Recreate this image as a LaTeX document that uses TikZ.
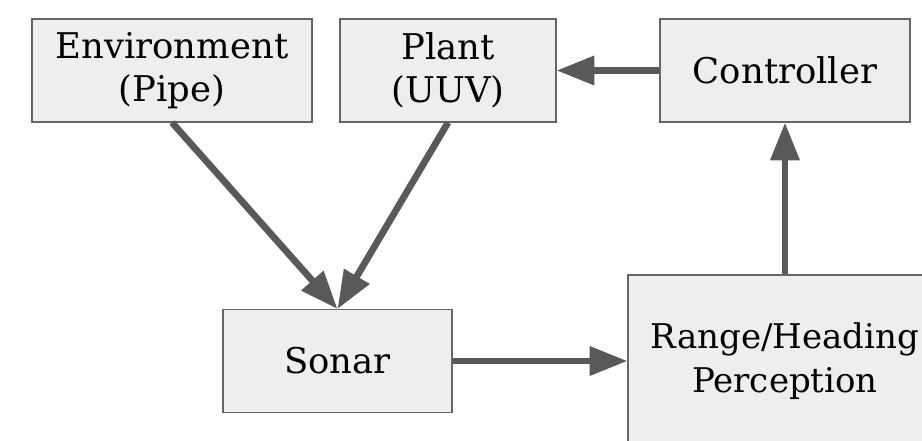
\documentclass[tikz,border=0pt]{standalone}
\usepackage{fontspec}
\setmainfont{DejaVu Serif}
\usetikzlibrary{arrows.meta,positioning}

\definecolor{boxfill}{HTML}{EEEEEE}
\definecolor{boxline}{HTML}{666666}
\definecolor{arrowgray}{HTML}{595959}

\begin{document}
\begin{tikzpicture}[
  x=1cm,y=1cm,
  font=\fontsize{25.2}{30.6}\selectfont,
  box/.style={draw=boxline,fill=boxfill,line width=.75pt,align=center,
              inner sep=0pt,minimum height=2.575cm},
  arr/.style={-{Triangle[length=27pt,width=20pt]},line width=4.8pt,draw=arrowgray}
]
\useasboundingbox (0,0) rectangle (23.05,11.025);
\clip (0,0) rectangle (23.05,11.025);

\node[box,minimum width=7.0cm] (env) at (4.30,9.2625) {Environment\\(Pipe)};
\node[box,minimum width=5.40cm] (plant) at (11.20,9.2625) {Plant\\(UUV)};
\node[box,minimum width=6.25cm] (ctrl) at (19.625,9.2625) {Controller};
\node[box,minimum width=5.725cm] (sonar) at (8.4375,2.0) {Sonar};
% Perception box runs past the right and bottom edges of the frame.
\node[box,minimum width=7.85cm,minimum height=4.30cm,
      font=\fontsize{24.2}{31}\selectfont] (percep) at (19.625,2.0)
  {Range/Heading\\Perception};

\draw[arr] (ctrl.west) -- (plant.east);
\draw[arr] (env.south) -- (sonar.north);
\draw[arr] (plant.south) -- (sonar.north);
\draw[arr] (sonar.east) -- (percep.west);
\draw[arr] (percep.north) -- (ctrl.south);
\end{tikzpicture}
\end{document}
